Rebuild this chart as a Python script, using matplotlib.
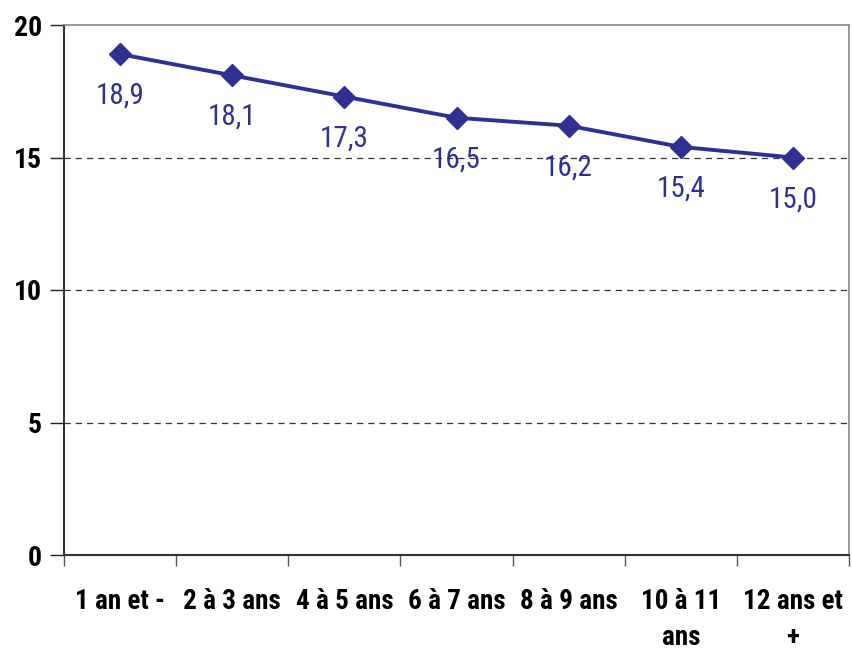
import matplotlib
matplotlib.use("Agg")
import matplotlib.pyplot as plt
from matplotlib import font_manager
import numpy as np

categories = ["1 an et -", "2 à 3 ans", "4 à 5 ans", "6 à 7 ans", "8 à 9 ans",
              "10 à 11\nans", "12 ans et\n+"]
values = [18.9, 18.1, 17.3, 16.5, 16.2, 15.4, 15.0]
value_labels = ["18,9", "18,1", "17,3", "16,5", "16,2", "15,4", "15,0"]
y_ticks = [0, 5, 10, 15, 20]

available = {f.name for f in font_manager.fontManager.ttflist}
family = "Liberation Sans Narrow" if "Liberation Sans Narrow" in available else "Roboto Condensed" if "Roboto Condensed" in available else "Liberation Sans"
plt.rcParams["font.family"] = [family, "DejaVu Sans"]

navy = "#2E3192"

fig = plt.figure(figsize=(8.52, 6.52), dpi=100)
ax = fig.add_axes([64 / 852, (652 - 555) / 652, (849 - 64) / 852, (555 - 25) / 652])

x = np.arange(len(categories))
ax.plot(x, values, color=navy, linewidth=2.8, marker="D", markersize=11, zorder=3)
for xi, v, lab in zip(x, values, value_labels):
    ax.annotate(lab, (xi, v), xytext=(0, -30), textcoords="offset points",
                ha="center", va="center", color=navy, fontsize=21)

ax.set_xlim(-0.5, len(categories) - 0.5)
ax.set_ylim(0, 20)
ax.set_yticks(y_ticks)
ax.set_yticklabels([str(t) for t in y_ticks], fontsize=20, fontweight="bold")
for t in y_ticks[1:-1]:
    ax.axhline(t, color="#333333", linestyle=(0, (5, 4)), linewidth=0.9, zorder=1)

ax.set_xticks(np.arange(len(categories) + 1) - 0.5, minor=False)
ax.set_xticklabels([])
ax.set_xticks(x, minor=True)
ax.set_xticklabels(categories, minor=True, fontsize=19.5, fontweight="bold",
                   linespacing=1.4, va="top")
ax.tick_params(axis="x", which="major", direction="out", length=8, width=1, color="#555555")
ax.tick_params(axis="x", which="minor", length=0, pad=24)
ax.tick_params(axis="y", direction="out", length=10, width=1, color="#222222", pad=6)

for side in ["top", "right"]:
    ax.spines[side].set_color("#888888")
    ax.spines[side].set_linewidth(1.2)
ax.spines["left"].set_color("#333333")
ax.spines["left"].set_linewidth(1.5)
ax.spines["bottom"].set_color("#333333")
ax.spines["bottom"].set_linewidth(1.5)

fig.savefig("out.png", dpi=100, facecolor="white")
